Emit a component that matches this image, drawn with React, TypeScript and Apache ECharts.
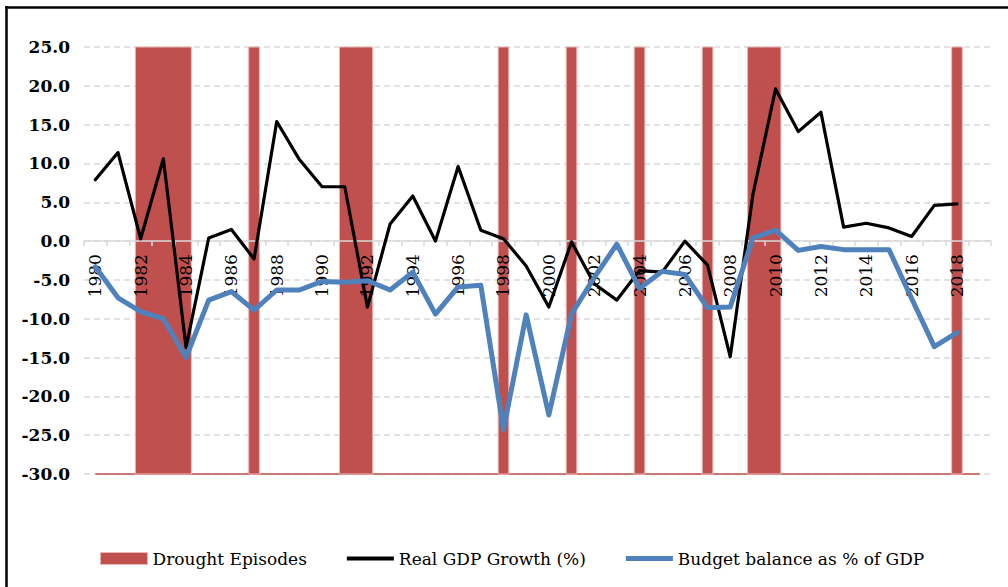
import React, { useEffect, useRef } from "react";
import * as echarts from "echarts";

const years = [
  "1980", "1981", "1982", "1983", "1984", "1985", "1986", "1987", "1988", "1989",
  "1990", "1991", "1992", "1993", "1994", "1995", "1996", "1997", "1998", "1999",
  "2000", "2001", "2002", "2003", "2004", "2005", "2006", "2007", "2008", "2009",
  "2010", "2011", "2012", "2013", "2014", "2015", "2016", "2017", "2018", "2019",
];

const gdpGrowth = [
  7.9, 11.4, 0.3, 10.6, -13.7, 0.4, 1.5, -2.3, 15.4, 10.5,
  7.0, 7.0, -8.5, 2.2, 5.8, 0.0, 9.6, 1.4, 0.3, -3.2,
  -8.5, -0.1, -5.5, -7.6, -3.8, -4.0, 0.0, -3.1, -14.9, 6.0,
  19.6, 14.1, 16.6, 1.8, 2.3, 1.7, 0.6, 4.6, 4.8,
];

const budgetBalance = [
  -3.3, -7.3, -9.1, -10.0, -15.0, -7.6, -6.5, -8.9, -6.3, -6.3,
  -5.2, -5.3, -5.1, -6.3, -4.0, -9.4, -5.9, -5.7, -24.3, -9.5,
  -22.4, -9.4, -4.7, -0.4, -6.1, -3.9, -4.3, -8.6, -8.5, 0.4,
  1.4, -1.2, -0.7, -1.1, -1.1, -1.1, -7.4, -13.6, -11.8,
];

// drought episodes: [first year, last year]
const droughtEpisodes = [
  ["1982", "1984"], ["1987", "1987"], ["1991", "1992"], ["1998", "1998"],
  ["2001", "2001"], ["2004", "2004"], ["2007", "2007"], ["2009", "2010"],
  ["2018", "2018"],
];

const yTicks = { min: -30, max: 25, interval: 5 };

const RED = "#C0504D";
const BLUE = "#4F81BD";
const FONT = "'DejaVu Serif', serif";

const GRID = { left: 84, right: 17, top: 47, bottom: 113 };

export default function App() {
  const ref = useRef<HTMLDivElement>(null);

  useEffect(() => {
    if (!ref.current) return;
    const chart = echarts.init(ref.current, null, { renderer: "svg" });

    const droughtData: number[][] = [];
    droughtData.push([0, years.length - 1, 0]);
    droughtEpisodes.forEach(([s, e]) => {
      droughtData.push([years.indexOf(s), years.indexOf(e), 1]);
    });

    // place the category axis on the zero line of the value axis
    const gridHeight = 587 - GRID.top - GRID.bottom;
    const zeroOffset = -(gridHeight * (0 - yTicks.min)) / (yTicks.max - yTicks.min);

    const option: any = {
      animation: false,
      backgroundColor: "#ffffff",
      grid: { ...GRID, containLabel: false },
      legend: {
        left: 95,
        top: 545,
        itemWidth: 47,
        itemHeight: 12,
        itemGap: 40,
        symbolKeepAspect: true,
        textStyle: { fontFamily: FONT, fontSize: 17, color: "#000" },
        data: [
          { name: "Drought Episodes", icon: "rect", itemStyle: { borderColor: "#EBB8B7", borderWidth: 1 } },
          { name: "Real GDP Growth (%)", icon: "path://M0,0L47,0L47,4L0,4Z", itemStyle: { color: "#000" } },
          { name: "Budget balance as % of GDP", icon: "path://M0,0L47,0L47,5L0,5Z", itemStyle: { color: BLUE } },
        ],
      },
      graphic: [
        { type: "line", z: 100, shape: { x1: 5.5, y1: 7.5, x2: 1008, y2: 7.5 }, style: { stroke: "#000", lineWidth: 2.5 } },
        { type: "line", z: 100, shape: { x1: 6.5, y1: 6, x2: 6.5, y2: 587 }, style: { stroke: "#000", lineWidth: 2.5 } },
      ],
      xAxis: {
        type: "category",
        data: years,
        boundaryGap: true,
        position: "bottom",
        offset: zeroOffset,
        z: 3,
        axisLine: { onZero: false, lineStyle: { color: "#D9D9D9", width: 1.5 } },
        axisTick: { show: true, interval: 0, length: 5, lineStyle: { color: "#D9D9D9", width: 1.5 } },
        axisLabel: {
          interval: 1,
          rotate: 90,
          margin: 13,
          fontFamily: FONT,
          fontSize: 17,
          color: "#000",
        },
        splitLine: { show: false },
      },
      yAxis: {
        type: "value",
        min: yTicks.min,
        max: yTicks.max,
        interval: yTicks.interval,
        axisLine: { show: false, onZero: false },
        axisTick: { show: false },
        axisLabel: {
          margin: 14,
          fontFamily: FONT,
          fontWeight: "bold",
          fontSize: 17,
          color: "#000",
          formatter: (v: number) => v.toFixed(1),
        },
        splitLine: { lineStyle: { color: "#D9D9D9", width: 1.5, type: [6, 4] } },
      },
      series: [
        {
          name: "Drought Episodes",
          type: "custom",
          z: 1,
          itemStyle: { color: RED },
          encode: { x: [0, 1], y: 2 },
          data: droughtData,
          renderItem: (params: any, api: any) => {
            const s = api.value(0);
            const e = api.value(1);
            const kind = api.value(2);
            const band = api.size([1, 0])[0];
            const half = band * 0.235;
            if (kind === 0) {
              const p0 = api.coord([s, yTicks.min]);
              const p1 = api.coord([e, yTicks.min]);
              return {
                type: "line",
                shape: { x1: p0[0], y1: p0[1], x2: p1[0], y2: p1[1] },
                style: { stroke: RED, lineWidth: 1.3 },
              };
            }
            const top = api.coord([s, yTicks.max]);
            const bot = api.coord([e, yTicks.min]);
            return {
              type: "rect",
              shape: {
                x: top[0] - half,
                y: top[1],
                width: bot[0] - top[0] + 2 * half,
                height: bot[1] - top[1],
              },
              style: { fill: RED, stroke: "#EBB8B7", lineWidth: 1 },
            };
          },
        },
        {
          name: "Real GDP Growth (%)",
          type: "line",
          z: 4,
          data: gdpGrowth,
          symbol: "none",
          showSymbol: false,
          itemStyle: { color: "#000" },
          lineStyle: { color: "#000", width: 3.2, join: "round", cap: "round" },
        },
        {
          name: "Budget balance as % of GDP",
          type: "line",
          z: 5,
          data: budgetBalance,
          symbol: "none",
          showSymbol: false,
          itemStyle: { color: BLUE },
          lineStyle: { color: BLUE, width: 5, join: "round", cap: "round" },
        },
      ],
    };

    chart.setOption(option);
    return () => chart.dispose();
  }, []);

  return (
    <div
      ref={ref}
      style={{ position: "fixed", left: 0, top: 0, width: 1008, height: 587, background: "#fff" }}
    />
  );
}
